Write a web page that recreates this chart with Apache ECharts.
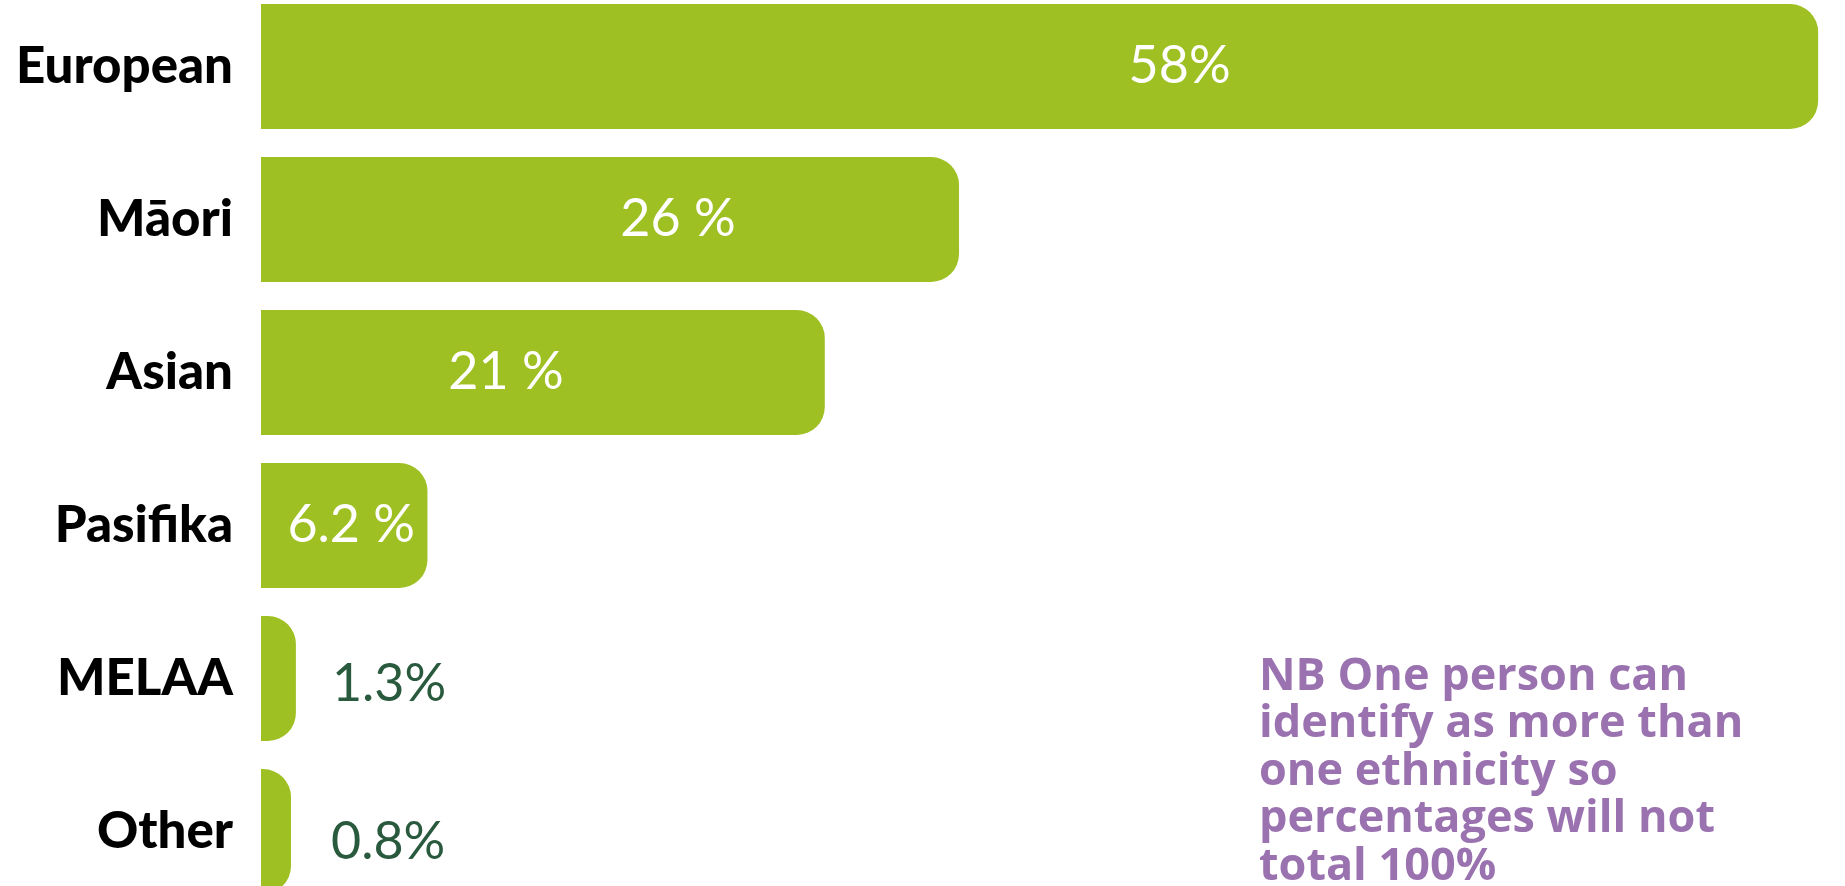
<!DOCTYPE html>
<html>
<head>
<meta charset="utf-8">
<script src="https://cdn.jsdelivr.net/npm/echarts@6/dist/echarts.min.js"></script>
<style>
  html, body { margin: 0; padding: 0; background: #fff; overflow: hidden; }
  /* the original is cropped: last bar runs off the bottom, first bar touches the top */
  #chartmain { position: absolute; left: 0; top: -10px; width: 1845px; height: 918px; }
</style>
</head>
<body>
<div id="chartmain"></div>
<script>
// data
var categories = ['European', 'Māori', 'Asian', 'Pasifika', 'MELAA', 'Other'];
var values = [58, 26, 21, 6.2, 1.3, 0.8];
var labelTexts = ['58%', '26 %', '21 %', '6.2 %', '1.3%', '0.8%'];
var note = 'NB One person can\nidentify as more than\none ethnicity so\npercentages will not\ntotal 100%';

// label nudges to match where the original placed them
var labelShift = [[140, 0], [68, 0], [-37, 0], [7, 0], [31, 6], [35, 11]];

var chart = echarts.init(document.getElementById('chartmain'));

var seriesData = values.map(function (v, i) {
    var inside = v > 5;
    return {
        value: v,
        label: {
            show: true,
            position: inside ? 'inside' : 'right',
            distance: 5,
            offset: labelShift[i],
            color: inside ? '#ffffff' : '#2a5a3e',
            formatter: labelTexts[i]
        }
    };
});

var option = {
    animation: false,
    grid: { left: 261, right: 0, top: 0, bottom: 0 },
    xAxis: {
        type: 'value',
        min: 0,
        max: 59,
        show: false
    },
    yAxis: {
        type: 'category',
        data: categories,
        inverse: true,
        axisLine: { show: false },
        axisTick: { show: false },
        splitLine: { show: false },
        axisLabel: {
            margin: 28,
            color: '#000000',
            fontFamily: 'Lato',
            fontWeight: 900,
            fontSize: 51
        }
    },
    series: [{
        type: 'bar',
        data: seriesData,
        barWidth: 125,
        barMinHeight: 30,
        itemStyle: {
            color: '#9fc023',
            borderRadius: [0, 28, 28, 0]
        },
        label: {
            fontFamily: 'Lato',
            fontSize: 52,
            fontWeight: 'normal'
        }
    }],
    graphic: [{
        type: 'text',
        left: 1259,
        top: 663,
        style: {
            text: note,
            fill: '#9b72b0',
            font: 'bold 45px "Open Sans"',
            lineHeight: 47.5
        }
    }]
};

chart.setOption(option);
</script>
</body>
</html>
